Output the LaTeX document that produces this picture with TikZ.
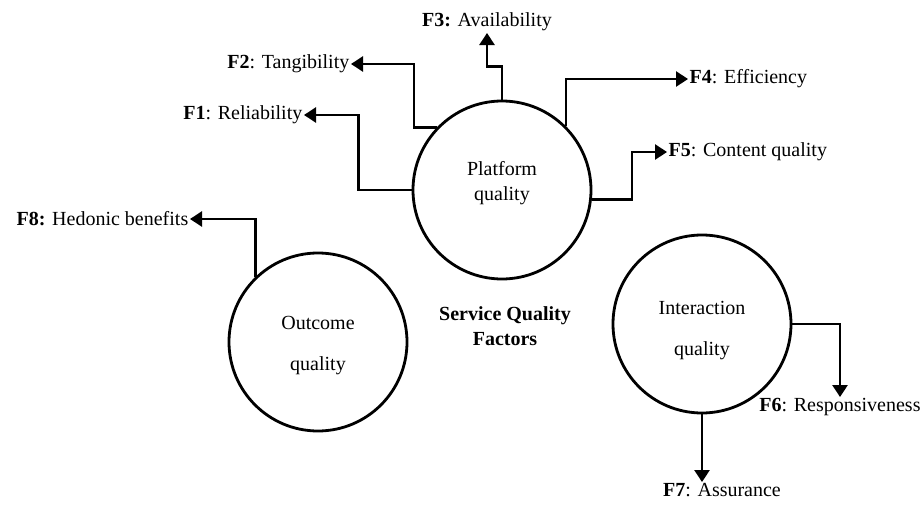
\documentclass[tikz,border=0pt]{standalone}
\usepackage{fontspec}
\setmainfont{Liberation Serif}
\usetikzlibrary{arrows.meta}
\begin{document}
\begin{tikzpicture}[x=1pt,y=-1pt,
  every node/.style={font=\fontsize{20}{24}\selectfont},
  qcircle/.style={draw,circle,line width=2.8pt,minimum size=178pt,inner sep=0pt,align=center},
  lbl/.style={inner sep=1.5pt},
  arr/.style={line width=2.8pt,-{Triangle[length=12pt,width=15pt]}}]
\useasboundingbox (0,0) rectangle (922,506);
\node[qcircle] (P) at (502,190) {Platform\\[1pt]quality\\[-5pt]\mbox{}};
\node[qcircle] (O) at (318,342) {\mbox{}\\[-4pt]Outcome\\[17pt]quality};
\node[qcircle] (I) at (702,324) {\mbox{}\\[2pt]Interaction\\[17pt]quality};
\node[align=center,font=\fontsize{20}{25}\selectfont\bfseries] (S) at (505,326) {Service Quality\\Factors};
\node[lbl,anchor=east] (f1) at (304,115) {\textbf{F1}: Reliability};
\node[lbl,anchor=east] (f2) at (351,64) {\textbf{F2}: Tangibility};
\node[lbl,anchor=south] (f3) at (487,33) {\textbf{F3:} Availability};
\node[lbl,anchor=west] (f4) at (688,79) {\textbf{F4}: Efficiency};
\node[lbl,anchor=west] (f5) at (667,152) {\textbf{F5}: Content quality};
\node[lbl,anchor=north] (f6) at (840,397) {\textbf{F6}: Responsiveness};
\node[lbl,anchor=north] (f7) at (722,482) {\textbf{F7}: Assurance};
\node[lbl,anchor=east] (f8) at (190,219) {\textbf{F8:} Hedonic benefits};
\draw[arr] (P.west) -- ++(-53,0) |- (f1.east);
\draw[arr] (P.136) -- ++(-23,0) |- (f2.east);
\draw[arr] (P.north) -- ++(0,-33) -| (f3.south);
\draw[arr] (P.45) |- (f4.west);
\draw[arr] (P.-6) -- ++(40,0) |- (f5.west);
\draw[arr] (I.east) -| (f6.north);
\draw[arr] (I.south) -- (I.south |- f7.north);
\draw[arr] (O.134) |- (f8.east);
\end{tikzpicture}
\end{document}
